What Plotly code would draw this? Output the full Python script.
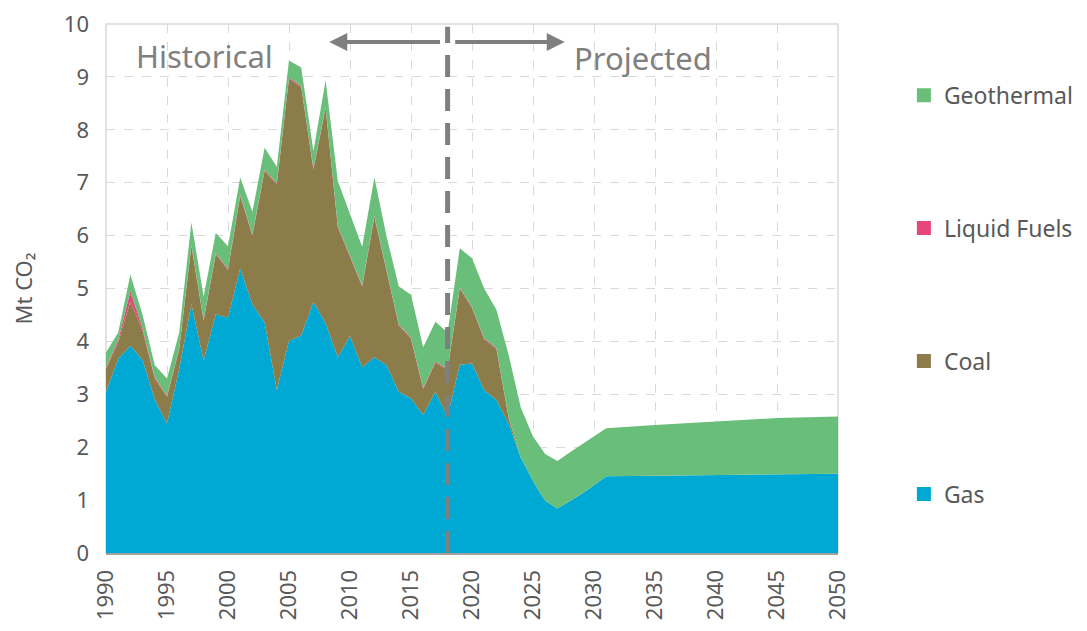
import plotly.graph_objects as go

years = list(range(1990, 2032)) + [2035, 2040, 2045, 2050]

gas = [3.05, 3.67, 3.92, 3.65, 2.90, 2.45, 3.48, 4.70, 3.64, 4.51,
       4.45, 5.38, 4.70, 4.36, 3.08, 4.01, 4.11, 4.75, 4.35, 3.70,
       4.10, 3.51, 3.70, 3.55, 3.05, 2.92, 2.61, 3.05, 2.58, 3.56,
       3.58, 3.08, 2.89, 2.45, 1.80, 1.36, 0.99, 0.84, 0.98, 1.12,
       1.28, 1.45, 1.46, 1.47, 1.49, 1.50]

coal = [0.43, 0.31, 0.84, 0.55, 0.40, 0.50, 0.37, 1.10, 0.75, 1.14,
        0.90, 1.37, 1.30, 2.86, 3.89, 4.96, 4.70, 2.50, 4.06, 2.46,
        1.50, 1.53, 2.65, 1.80, 1.25, 1.13, 0.49, 0.55, 0.88, 1.44,
        1.05, 0.96, 0.97, 0.10, 0.00, 0.00, 0.00, 0.00, 0.00, 0.00,
        0.00, 0.00, 0.00, 0.00, 0.00, 0.00]

liquid = [0.02, 0.05, 0.19, 0.05, 0.02, 0.02, 0.02, 0.02, 0.02, 0.02,
          0.02, 0.02, 0.02, 0.02, 0.02, 0.02, 0.02, 0.02, 0.02, 0.02,
          0.02, 0.02, 0.02, 0.02, 0.02, 0.02, 0.02, 0.02, 0.02, 0.02,
          0.02, 0.02, 0.02, 0.02, 0.00, 0.00, 0.00, 0.00, 0.00, 0.00,
          0.00, 0.00, 0.00, 0.00, 0.00, 0.00]

geothermal = [0.29, 0.14, 0.31, 0.25, 0.23, 0.33, 0.30, 0.43, 0.44, 0.38,
              0.43, 0.33, 0.43, 0.42, 0.31, 0.32, 0.35, 0.33, 0.50, 0.85,
              0.79, 0.73, 0.73, 0.61, 0.72, 0.81, 0.77, 0.75, 0.69, 0.74,
              0.92, 0.94, 0.72, 1.18, 0.95, 0.84, 0.88, 0.90, 0.92, 0.93,
              0.92, 0.91, 0.96, 1.02, 1.06, 1.08]

series = [
    ("Gas", gas, "#00A9D3"),
    ("Coal", coal, "#8B7C49"),
    ("Liquid Fuels", liquid, "#E8457C"),
    ("Geothermal", geothermal, "#69BE7A"),
]

x_ticks = list(range(1990, 2051, 5))
split_year = 2018

FONT = "Noto Sans, Open Sans, sans-serif"
TXT = "#595959"

fig = go.Figure()
for name, vals, col in series:
    fig.add_trace(go.Scatter(
        x=years, y=vals, name=name, stackgroup="one", mode="lines",
        line=dict(width=0, color=col), fillcolor=col, showlegend=False,
        hoverinfo="x+y+name"))

# legend entries (square markers), top to bottom: Geothermal ... Gas
for name, vals, col in reversed(series):
    fig.add_trace(go.Scatter(
        x=[None], y=[None], name=name, mode="markers",
        marker=dict(symbol="square", size=14, color=col),
        legendgroup=name, showlegend=True))

fig.add_shape(type="line", x0=split_year, x1=split_year, y0=0, y1=9.95,
              xref="x", yref="y",
              line=dict(color="#7F7F7F", width=5, dash="22px,12px"))

arrow_y = 9.66
fig.add_annotation(x=2008.3, y=arrow_y, ax=split_year - 0.5, ay=arrow_y,
                   xref="x", yref="y", axref="x", ayref="y", text="",
                   showarrow=True, arrowhead=2, arrowsize=0.9, arrowwidth=4,
                   arrowcolor="#7F7F7F")
fig.add_annotation(x=2027.6, y=arrow_y, ax=split_year + 0.5, ay=arrow_y,
                   xref="x", yref="y", axref="x", ayref="y", text="",
                   showarrow=True, arrowhead=2, arrowsize=0.9, arrowwidth=4,
                   arrowcolor="#7F7F7F")

fig.add_annotation(x=1998.1, y=9.40, xref="x", yref="y", text="Historical",
                   showarrow=False, font=dict(family=FONT, size=31, color="#808080"))
fig.add_annotation(x=2034.0, y=9.36, xref="x", yref="y", text="Projected",
                   showarrow=False, font=dict(family=FONT, size=31, color="#808080"))

fig.update_layout(
    width=1087, height=631,
    margin=dict(l=98, r=257, t=16, b=86, autoexpand=False),
    paper_bgcolor="white", plot_bgcolor="white",
    font=dict(family=FONT, color=TXT),
    legend=dict(x=1.090, y=0.906, xanchor="left", yanchor="top",
                traceorder="grouped", tracegroupgap=100,
                font=dict(family=FONT, size=23, color=TXT),
                itemwidth=30, bgcolor="rgba(0,0,0,0)"),
    xaxis=dict(range=[1990, 2050], tickmode="array", tickvals=x_ticks,
               ticktext=[str(t) for t in x_ticks], tickangle=-90,
               tickfont=dict(size=22, color=TXT), automargin=False,
               ticklabelstandoff=6,
               showgrid=True, gridcolor="#D9D9D9", griddash="dash", gridwidth=1,
               showline=True, linecolor="#A0A0A0", linewidth=2, mirror=False,
               zeroline=False, ticks=""),
    yaxis=dict(range=[0, 10], dtick=1, tickfont=dict(size=22, color=TXT),
               automargin=False, ticklabelstandoff=16, ticklabeloverflow="allow",
               title=dict(text="Mt CO₂", font=dict(size=22, color=TXT), standoff=28),
               showgrid=True, gridcolor="#D9D9D9", griddash="dash", gridwidth=1,
               zeroline=False, ticks=""),
)
# light frame around plot area
fig.add_shape(type="rect", xref="paper", yref="paper", x0=0, x1=1, y0=0, y1=1,
              line=dict(color="#D9D9D9", width=1.5), layer="below")

fig.write_html("out.html")
